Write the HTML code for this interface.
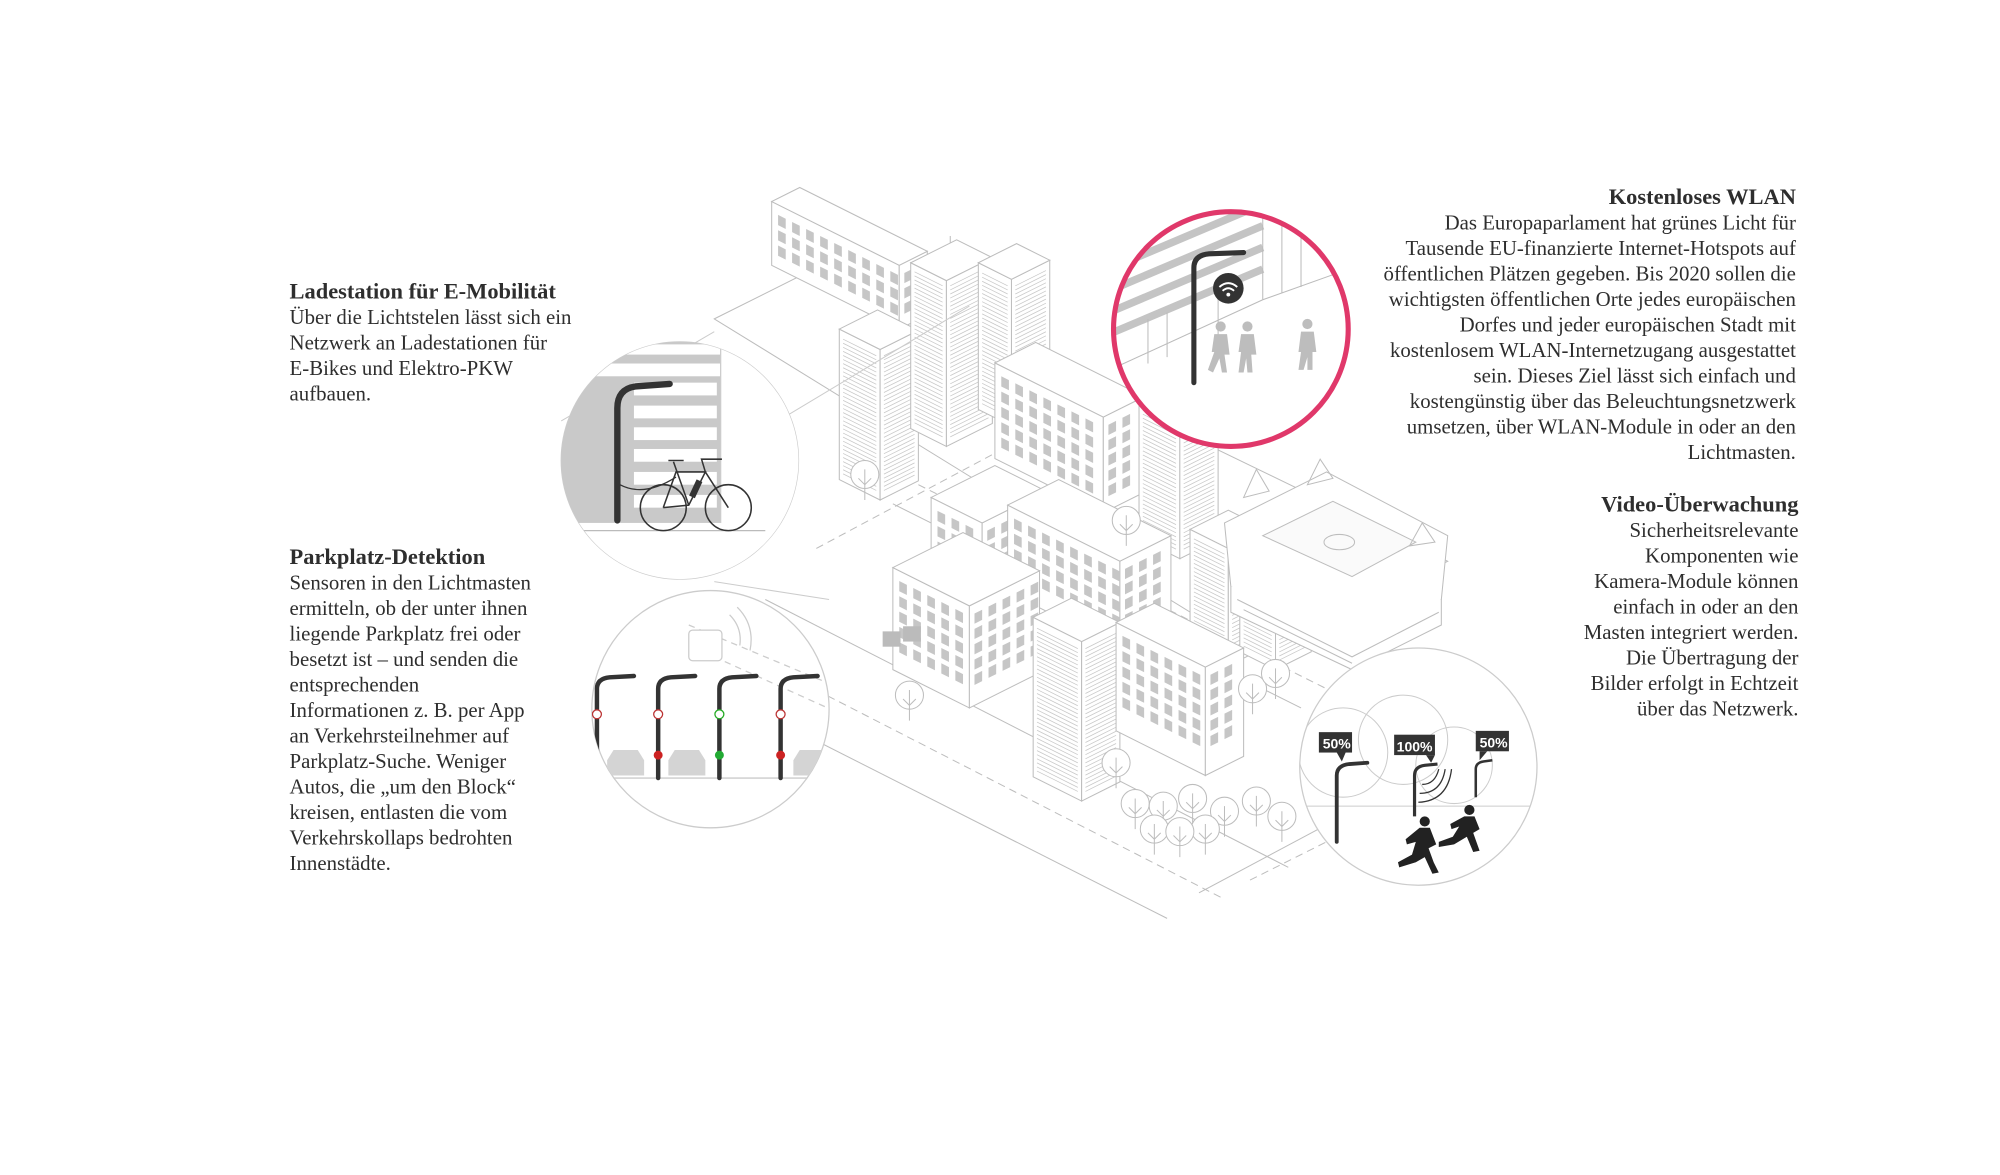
<!DOCTYPE html>
<html><head><meta charset="utf-8"><style>
html,body{margin:0;padding:0;background:#fff;}
svg{display:block;}
.t{font-family:"Liberation Serif",serif;fill:#2e2e2e;font-size:16.35px;}
.h{font-weight:bold;font-size:17.6px;fill:#2e2e2e;}
</style></head><body>
<svg id="s" width="2000" height="1175" viewBox="0 0 1568 921.2" xmlns="http://www.w3.org/2000/svg">
<rect width="1568" height="921.2" fill="#fff"/>
<g id="city" stroke="#bdbdbd" stroke-width="0.8" fill="#fff">
<polygon points="560,250 650,205 1135,440 990,515" fill="none"/>
<line x1="560" y1="500" x2="960" y2="705" stroke-dasharray="6,4"/>
<line x1="600" y1="470" x2="1010" y2="680"/>
<line x1="520" y1="520" x2="915" y2="720"/>
<line x1="720" y1="380" x2="1040" y2="540" stroke-dasharray="6,4"/>
<line x1="700" y1="395" x2="1020" y2="555"/>
<line x1="640" y1="430" x2="790" y2="350" stroke-dasharray="6,4"/>
<line x1="940" y1="700" x2="1090" y2="620"/>
<line x1="980" y1="690" x2="1110" y2="625" stroke-dasharray="6,4"/>
<line x1="745" y1="185" x2="745" y2="230"/>
</g>
<g id="bld"></g>
<g stroke="#bdbdbd" stroke-width="0.8" fill="#fff">
<polygon points="960,410 1040,370 1135,420 1130,470 1060,505 965,460"/>
<polygon points="990,420 1045,393 1110,425 1060,452" fill="#fafafa"/>
<ellipse cx="1050" cy="425" rx="12" ry="6" fill="none"/>
<path d="M965,460 L965,480 L1060,525 L1130,490 L1130,470" fill="#fff"/>
<path d="M970,470 L1060,515 L1128,480 M975,478 L1060,520" fill="none"/>
<polygon points="985,368 995,385 975,390" fill="none"/><polygon points="1035,360 1045,375 1025,380" fill="none"/><polygon points="1115,410 1125,425 1105,428" fill="none"/>
</g>
<g id="trees" stroke="#bdbdbd" stroke-width="0.8" fill="#fff"></g>

<defs>
<clipPath id="c1"><circle cx="533" cy="361" r="93"/></clipPath>
<clipPath id="c2"><circle cx="557" cy="556" r="93"/></clipPath>
<clipPath id="c3"><circle cx="965" cy="258" r="92"/></clipPath>
<clipPath id="c4"><circle cx="1112" cy="601" r="93"/></clipPath>
</defs>
<path d="M440,330 L560,260 M560,456 L650,470 M610,330 L760,240" stroke="#ccc" stroke-width="0.8" fill="none"/>
<circle cx="533" cy="361" r="93" fill="#fff" stroke="#ccc" stroke-width="1"/>
<g clip-path="url(#c1)">
<rect x="430" y="260" width="135" height="150" fill="#c9c9c9"/>
<g fill="#fff"><rect x="497" y="300" width="65" height="10"/><rect x="497" y="318" width="65" height="10"/><rect x="497" y="335" width="65" height="10"/><rect x="497" y="352" width="65" height="10"/><rect x="497" y="370" width="65" height="10"/><rect x="497" y="388" width="65" height="10"/>
<rect x="430" y="285" width="135" height="10"/><rect x="430" y="270" width="135" height="8"/></g>
<rect x="565" y="260" width="100" height="200" fill="#fff"/>
<line x1="565" y1="260" x2="565" y2="410" stroke="#ccc"/>
<line x1="430" y1="415" x2="640" y2="415" stroke="#ccc"/>
<rect x="430" y="410" width="210" height="60" fill="#fff"/>
<line x1="440" y1="416" x2="600" y2="416" stroke="#bbb"/>
<path d="M484,408 L484,320 Q484,305 498,303 L525,301" stroke="#333" stroke-width="5" fill="none" stroke-linecap="round"/>
<path d="M486,380 Q505,390 530,374" stroke="#333" stroke-width="1" fill="none"/>
<g stroke="#333" stroke-width="1.2" fill="none"><circle cx="520" cy="398" r="18"/><circle cx="571" cy="398" r="18"/>
<path d="M520,398 L540,396 L553,370 L530,370 L520,398 M540,396 L528,362 M553,370 L571,398 M553,370 L550,360 L566,360 M524,361 L536,361"/></g>
<rect x="543" y="376" width="5" height="14" fill="#333" transform="rotate(25 545 383)"/>
</g>

<circle cx="557" cy="556" r="93" fill="#fff" stroke="#ccc" stroke-width="1"/>
<g clip-path="url(#c2)">
<line x1="460" y1="610" x2="660" y2="610" stroke="#ccc"/>
<path d="M540,490 L660,540 M560,515 L660,560" stroke="#ccc" stroke-dasharray="5,4" fill="none"/>
<rect x="540" y="494" width="26" height="24" rx="3" fill="#fff" stroke="#ccc"/>
<path d="M572,482 Q582,492 580,506 M578,476 Q592,490 588,510" stroke="#ccc" fill="none"/>
<g fill="#d4d4d4"><path d="M476,608 L476,596 L481,588 L500,588 L505,596 L505,608Z"/><path d="M524,608 L524,596 L529,588 L548,588 L553,596 L553,608Z"/><path d="M622,608 L622,596 L627,588 L646,588 L651,596 L651,608Z"/></g>
<g stroke="#333" stroke-width="3.5" fill="none" stroke-linecap="round">
<path d="M468,610 L468,540 Q468,532 478,531 L497,530"/><path d="M516,610 L516,540 Q516,532 526,531 L545,530"/><path d="M564,610 L564,540 Q564,532 574,531 L593,530"/><path d="M612,610 L612,540 Q612,532 622,531 L641,530"/></g>
<g stroke-width="1" fill="#fff"><circle cx="468" cy="560" r="3.5" stroke="#b33"/><circle cx="516" cy="560" r="3.5" stroke="#b33"/><circle cx="564" cy="560" r="3.5" stroke="#2a2"/><circle cx="612" cy="560" r="3.5" stroke="#b33"/></g>
<g><circle cx="516" cy="592" r="3.5" fill="#c22"/><circle cx="564" cy="592" r="3.5" fill="#2a3"/><circle cx="612" cy="592" r="3.5" fill="#c22"/></g>
</g>

<circle cx="965" cy="258" r="92" fill="#fff"/>
<g clip-path="url(#c3)">
<g stroke="#c4c4c4" stroke-width="6"><line x1="860" y1="215" x2="990" y2="160"/><line x1="860" y1="232" x2="990" y2="177"/><line x1="860" y1="249" x2="990" y2="194"/><line x1="860" y1="266" x2="990" y2="211"/></g>
<g stroke="#bbb" fill="none" stroke-width="0.8"><path d="M870,290 L990,235 L990,165 M990,235 L1060,210 M1005,175 L1005,230 M1020,170 L1020,225 M900,250 L900,285 M915,245 L915,280 M935,240 L935,275 M955,232 L955,268"/></g>
<path d="M936,300 L936,210 Q936,200 948,199 L975,198" stroke="#333" stroke-width="4" fill="none" stroke-linecap="round"/>
<circle cx="963" cy="226" r="12" fill="#333"/>
<path d="M956,225 Q963,219 970,225 M958.5,228 Q963,224 967.5,228" stroke="#fff" stroke-width="1.5" fill="none"/><circle cx="963" cy="231" r="1.5" fill="#fff"/>
<g fill="#bdbdbd"><circle cx="957" cy="256" r="4"/><path d="M952,262 L962,262 L964,278 L960,278 L962,292 L958,292 L956,281 L951,292 L947,290 L952,276 L950,276Z"/>
<circle cx="978" cy="256" r="4"/><path d="M973,262 L983,262 L985,278 L981,278 L982,292 L978,292 L977,281 L975,292 L971,292 L973,276 L971,276Z"/>
<circle cx="1025" cy="254" r="4"/><path d="M1020,260 L1030,260 L1032,276 L1029,276 L1029,290 L1025,290 L1025,280 L1022,290 L1018,290 L1020,276 L1018,276Z"/></g>
</g>
<circle cx="965" cy="258" r="92" fill="none" stroke="#e0386a" stroke-width="4"/>

<circle cx="1112" cy="601" r="93" fill="#fff" stroke="#ccc" stroke-width="1"/>
<g clip-path="url(#c4)">
<g stroke="#ccc" fill="none" stroke-width="0.8"><circle cx="1053" cy="590" r="35"/><circle cx="1100" cy="580" r="35"/><circle cx="1140" cy="600" r="30"/><line x1="1020" y1="632" x2="1210" y2="632"/></g>
<path d="M1048,660 L1048,608 Q1048,600 1058,599 L1072,598" stroke="#333" stroke-width="3" fill="none" stroke-linecap="round"/>
<path d="M1109,640 L1109,608 Q1109,601 1117,600 L1127,599" stroke="#333" stroke-width="2.5" fill="none"/>
<path d="M1157,625 L1157,603 Q1157,598 1163,597 L1170,596" stroke="#333" stroke-width="2" fill="none"/>
<path d="M1115,615 Q1125,615 1128,603 M1113,622 Q1130,622 1133,603 M1112,629 Q1135,628 1138,603" stroke="#333" stroke-width="1" fill="none"/>
<g fill="#222"><circle cx="1117" cy="644" r="4"/><path d="M1113,649 L1121,649 L1126,662 L1120,665 L1124,676 L1128,684 L1123,685 L1117,672 L1110,676 L1097,680 L1096,676 L1107,670 L1110,660 L1103,662 L1102,658Z"/>
<circle cx="1152" cy="635" r="4"/><path d="M1148,640 L1156,640 L1160,650 L1155,653 L1160,667 L1155,668 L1150,656 L1140,662 L1128,664 L1128,660 L1139,656 L1144,648 L1138,650 L1137,646Z"/></g>
<g><rect x="1034" y="574" width="26" height="16" fill="#333"/><path d="M1048,590 L1052,597 L1055,590Z" fill="#333"/><text x="1037" y="587" fill="#fff" font-family="Liberation Sans,sans-serif" font-weight="bold" font-size="11">50%</text>
<rect x="1093" y="576" width="32" height="16" fill="#333"/><path d="M1118,592 L1122,598 L1125,592Z" fill="#333"/><text x="1095" y="589" fill="#fff" font-family="Liberation Sans,sans-serif" font-weight="bold" font-size="11">100%</text>
<rect x="1157" y="573" width="26" height="16" fill="#333"/><path d="M1160,589 L1160,596 L1166,589Z" fill="#333"/><text x="1160" y="586" fill="#fff" font-family="Liberation Sans,sans-serif" font-weight="bold" font-size="11">50%</text></g>
</g>

<text class="t h" x="227" y="234">Ladestation für E-Mobilität</text>
<text class="t" x="227" y="254">Über die Lichtstelen lässt sich ein</text>
<text class="t" x="227" y="274">Netzwerk an Ladestationen für</text>
<text class="t" x="227" y="294">E-Bikes und Elektro-PKW</text>
<text class="t" x="227" y="314">aufbauen.</text>
<text class="t h" x="227" y="442">Parkplatz-Detektion</text>
<text class="t" x="227" y="462">Sensoren in den Lichtmasten</text>
<text class="t" x="227" y="482">ermitteln, ob der unter ihnen</text>
<text class="t" x="227" y="502">liegende Parkplatz frei oder</text>
<text class="t" x="227" y="522">besetzt ist – und senden die</text>
<text class="t" x="227" y="542">entsprechenden</text>
<text class="t" x="227" y="562">Informationen z. B. per App</text>
<text class="t" x="227" y="582">an Verkehrsteilnehmer auf</text>
<text class="t" x="227" y="602">Parkplatz-Suche. Weniger</text>
<text class="t" x="227" y="622">Autos, die „um den Block“</text>
<text class="t" x="227" y="642">kreisen, entlasten die vom</text>
<text class="t" x="227" y="662">Verkehrskollaps bedrohten</text>
<text class="t" x="227" y="682">Innenstädte.</text>
<g text-anchor="end">
<text class="t h" x="1408" y="160">Kostenloses WLAN</text>
<text class="t" x="1408" y="180">Das Europaparlament hat grünes Licht für</text>
<text class="t" x="1408" y="200">Tausende EU-finanzierte Internet-Hotspots auf</text>
<text class="t" x="1408" y="220">öffentlichen Plätzen gegeben. Bis 2020 sollen die</text>
<text class="t" x="1408" y="240">wichtigsten öffentlichen Orte jedes europäischen</text>
<text class="t" x="1408" y="260">Dorfes und jeder europäischen Stadt mit</text>
<text class="t" x="1408" y="280">kostenlosem WLAN-Internetzugang ausgestattet</text>
<text class="t" x="1408" y="300">sein. Dieses Ziel lässt sich einfach und</text>
<text class="t" x="1408" y="320">kostengünstig über das Beleuchtungsnetzwerk</text>
<text class="t" x="1408" y="340">umsetzen, über WLAN-Module in oder an den</text>
<text class="t" x="1408" y="360">Lichtmasten.</text>
<text class="t h" x="1410" y="401">Video-Überwachung</text>
<text class="t" x="1410" y="421">Sicherheitsrelevante</text>
<text class="t" x="1410" y="441">Komponenten wie</text>
<text class="t" x="1410" y="461">Kamera-Module können</text>
<text class="t" x="1410" y="481">einfach in oder an den</text>
<text class="t" x="1410" y="501">Masten integriert werden.</text>
<text class="t" x="1410" y="521">Die Übertragung der</text>
<text class="t" x="1410" y="541">Bilder erfolgt in Echtzeit</text>
<text class="t" x="1410" y="561">über das Netzwerk.</text>
</g>
</svg>
<script>
(function(){
var NS="http://www.w3.org/2000/svg",g=document.getElementById("bld"),tg=document.getElementById("trees");
function el(p,tag,at){var e=document.createElementNS(NS,tag);for(var k in at)e.setAttribute(k,at[k]);p.appendChild(e);return e;}
function pts(a){return a.map(function(p){return p[0].toFixed(1)+","+p[1].toFixed(1)}).join(" ");}
function box(x,y,a,b,h,type){
 var F=[x,y],L=[x-a,y-a/2],R=[x+b,y-b/2],B=[x-a+b,y-a/2-b/2];
 function up(p){return [p[0],p[1]-h];}
 var st={stroke:"#bdbdbd","stroke-width":0.8,fill:"#fff"};
 el(g,"polygon",Object.assign({points:pts([F,L,up(L),up(F)])},st));
 el(g,"polygon",Object.assign({points:pts([F,R,up(R),up(F)])},st));
 el(g,"polygon",Object.assign({points:pts([up(F),up(L),up(B),up(R)])},st));
 if(type=="stripe"){
  for(var i=6;i<h-4;i+=3.2){
   el(g,"line",{x1:x-a+3,y1:y-a/2+1.5-i,x2:x-3,y2:y-1.5-i,stroke:"#c8c8c8","stroke-width":0.6});
   el(g,"line",{x1:x+3,y1:y-1.5-i,x2:x+b-3,y2:y-b/2+1.5-i,stroke:"#c8c8c8","stroke-width":0.6});
  }
 } else {
  var n=Math.floor(a/11),m=Math.floor((h-14)/12);
  for(var r=0;r<m;r++)for(var c=0;c<n;c++){
   var x0=x-a+5+c*11,y0=y-a/2+(5+c*11)/2-h+8+r*12;
   el(g,"polygon",{points:pts([[x0,y0],[x0+6,y0+3],[x0+6,y0+11],[x0,y0+8]]),fill:"#c6c6c6"});
  }
  var n2=Math.floor(b/11);
  for(var r=0;r<m;r++)for(var c=0;c<n2;c++){
   var x0=x+4+c*11,y0=y-(4+c*11)/2-h+8+r*12;
   el(g,"polygon",{points:pts([[x0,y0],[x0+6,y0-3],[x0+6,y0+5],[x0,y0+8]]),fill:"#c6c6c6"});
  }
 }
}
var list=[
 [705,258,100,22,50,"grid"],
 [690,392,32,30,118,"stripe"],
 [742,350,28,36,130,"stripe"],
 [793,334,26,30,115,"stripe"],
 [770,480,40,50,70,"grid"],
 [865,402,85,32,75,"grid"],
 [925,438,32,30,108,"stripe"],
 [878,508,88,40,68,"grid"],
 [963,522,30,30,92,"stripe"],
 [1000,525,28,28,95,"stripe"],
 [760,555,60,55,80,"grid"],
 [848,628,38,30,125,"stripe"],
 [945,608,70,30,85,"grid"]
];
list.forEach(function(d){box.apply(null,d);});
el(g,"rect",{x:692,y:495,width:14,height:12,fill:"#bbb"});
el(g,"rect",{x:708,y:491,width:14,height:12,fill:"#bbb"});
var trees=[[678,372],[883,408],[713,545],[875,598],[982,540],[1000,528],[890,630],[912,632],[935,626],[960,636],[985,628],[1005,640],[945,650],[905,650],[925,652]];
trees.forEach(function(t){el(tg,"circle",{cx:t[0],cy:t[1],r:11});el(tg,"path",{d:"M"+t[0]+","+(t[1]-4)+" L"+t[0]+","+(t[1]+20)+" M"+(t[0]-5)+","+(t[1]+3)+" L"+t[0]+","+(t[1]+8)+" L"+(t[0]+5)+","+(t[1]+3),fill:"none"});});
})();
</script>
</body></html>
